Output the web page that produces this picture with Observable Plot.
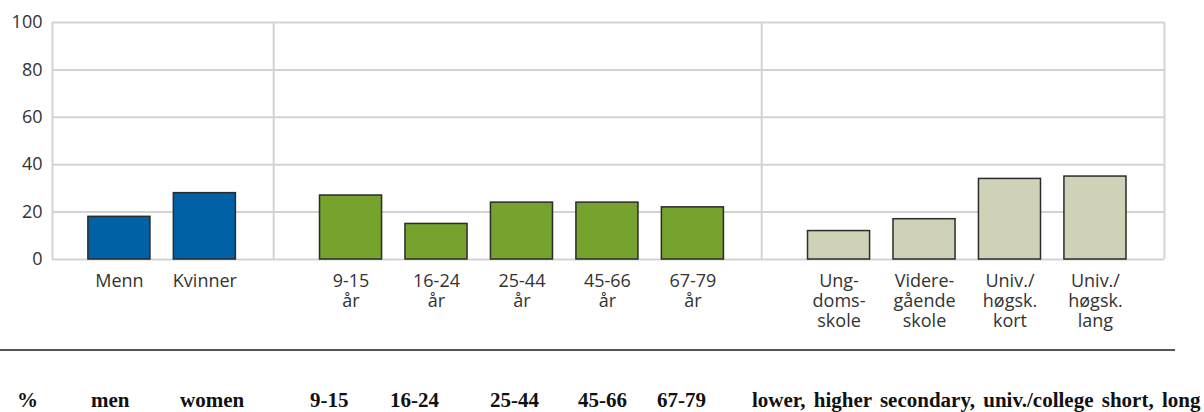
<!DOCTYPE html>
<html>
<head>
<meta charset="utf-8">
<script src="https://cdn.jsdelivr.net/npm/d3@7"></script>
<script src="https://cdn.jsdelivr.net/npm/@observablehq/plot@0.6"></script>
<style>
  html, body { margin: 0; padding: 0; background: #fff; }
  #wrap { position: relative; width: 1204px; height: 412px; overflow: hidden; }
  #chart { position: absolute; left: 0; top: 0; }
  #rule { position: absolute; left: 0; top: 349px; width: 1175px; height: 0; border-top: 2px solid #555; }
  .foot { position: absolute; top: 390px; font-family: "Liberation Serif", "Times New Roman", serif; font-weight: bold; font-size: 21px; line-height: 21px; color: #111; white-space: nowrap; }
  .foot.long { word-spacing: 3px; }
</style>
</head>
<body>
<div id="wrap">
  <div id="chart"></div>
  <div id="rule"></div>
</div>
<script>
// ---- data ----
const genderLabels = ["Menn", "Kvinner"];
const genderValues = [18, 28];
const ageLabels = ["9-15\når", "16-24\når", "25-44\når", "45-66\når", "67-79\når"];
const ageValues = [27, 15, 24, 24, 22];
const eduLabels = ["Ung-\ndoms-\nskole", "Videre-\ngående\nskole", "Univ./\nhøgsk.\nkort", "Univ./\nhøgsk.\nlang"];
const eduValues = [12, 17, 34, 35];
const yTicks = [0, 20, 40, 60, 80, 100];
const footerLabels = ["%", "men", "women", "9-15", "16-24", "25-44", "45-66", "67-79", "lower, higher secondary, univ./college short, long"];

// ---- layout helpers ----
const groupColors = ["#0061a4", "#76a22e", "#cfd2b6"];
const GAP = 0.71;      // extra space between groups, in bar steps
const HALF = 0.363;    // half bar width, in bar steps
const groups = [
  {labels: genderLabels, values: genderValues},
  {labels: ageLabels, values: ageValues},
  {labels: eduLabels, values: eduValues}
];
const rows = [];
let idx = 0;
groups.forEach((g, gi) => {
  g.labels.forEach((label, i) => {
    rows.push({label, value: g.values[i], group: gi, pos: idx + gi * GAP});
    idx++;
  });
});
const separators = [];
for (let gi = 0; gi < groups.length - 1; gi++) {
  const last = rows.filter(r => r.group === gi).at(-1).pos;
  const first = rows.filter(r => r.group === gi + 1)[0].pos;
  separators.push((last + first) / 2 - 0.05);
}
const xMin = rows[0].pos - HALF - 0.42;
const xMax = rows.at(-1).pos + HALF + 0.445;
const grid = "#d3d3d3";

const chart = Plot.plot({
  width: 1204,
  height: 340,
  marginLeft: 52,
  marginRight: 40,
  marginTop: 22,
  marginBottom: 81,
  style: {fontFamily: "'Open Sans', sans-serif", fontSize: "18px", color: "#333", background: "transparent"},
  x: {type: "linear", domain: [xMin, xMax], axis: null},
  y: {domain: [0, 100], axis: null},
  marks: [
    Plot.ruleY(yTicks, {stroke: grid, strokeWidth: 2}),
    Plot.ruleX([xMin, xMax, ...separators], {y1: 0, y2: 100, stroke: grid, strokeWidth: 2}),
    ...groupColors.map((c, gi) => Plot.rectY(rows.filter(r => r.group === gi), {
      x1: d => d.pos - HALF, x2: d => d.pos + HALF, y1: 0, y2: "value",
      fill: c, stroke: "#2b2b2b", strokeWidth: 1.5
    })),
    Plot.text(rows, {x: "pos", y: 0, text: "label", lineAnchor: "top", dy: 13, fontSize: 18, lineHeight: 1.12, fill: "#333"}),
    Plot.axisY(yTicks, {tickSize: 0, tickPadding: 10, fontSize: 18, fill: "#333", label: null})
  ]
});
document.getElementById("chart").appendChild(chart);

const footerLeft = [17, 91, 180, 310, 390, 490, 578, 657, 752];
const wrap = document.getElementById("wrap");
footerLabels.forEach((t, i) => {
  const s = document.createElement("span");
  s.className = "foot" + (i === footerLabels.length - 1 ? " long" : "");
  s.style.left = footerLeft[i] + "px";
  s.textContent = t;
  wrap.appendChild(s);
});
</script>
</body>
</html>
